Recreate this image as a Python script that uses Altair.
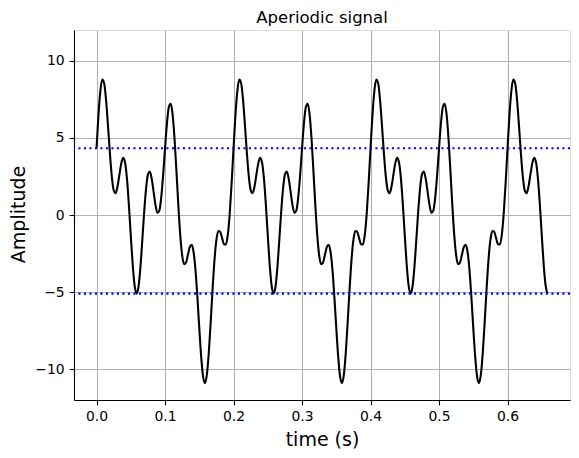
import altair as alt
import pandas as pd

# ---- data ----
sample_rate = 360  # samples per second (time step 1/360 s)
amplitude = [
    4.33, 6.46, 8.04, 8.78, 8.55, 7.47, 5.83, 4.05, 2.54, 1.62, 1.41, 1.83,
    2.60, 3.35, 3.71, 3.40, 2.34, 0.66, -1.33, -3.21, -4.57, -5.10, -4.70, -3.48,
    -1.73, 0.13, 1.68, 2.62, 2.82, 2.35, 1.50, 0.64, 0.14, 0.28, 1.14, 2.59,
    4.33, 5.94, 7.00, 7.22, 6.50, 4.93, 2.83, 0.61, -1.31, -2.62, -3.19, -3.09,
    -2.60, -2.09, -1.93, -2.40, -3.57, -5.32, -7.33, -9.19, -10.48, -10.90, -10.34, -8.92,
    -6.93, -4.79, -2.91, -1.62, -1.04, -1.09, -1.50, -1.90, -1.91, -1.28, 0.10, 2.07,
    4.33, 6.46, 8.04, 8.78, 8.55, 7.47, 5.83, 4.05, 2.54, 1.62, 1.41, 1.83,
    2.60, 3.35, 3.71, 3.40, 2.34, 0.66, -1.33, -3.21, -4.57, -5.10, -4.70, -3.48,
    -1.73, 0.13, 1.68, 2.62, 2.82, 2.35, 1.50, 0.64, 0.14, 0.28, 1.14, 2.59,
    4.33, 5.94, 7.00, 7.22, 6.50, 4.93, 2.83, 0.61, -1.31, -2.62, -3.19, -3.09,
    -2.60, -2.09, -1.93, -2.40, -3.57, -5.32, -7.33, -9.19, -10.48, -10.90, -10.34, -8.92,
    -6.93, -4.79, -2.91, -1.62, -1.04, -1.09, -1.50, -1.90, -1.91, -1.28, 0.10, 2.07,
    4.33, 6.46, 8.04, 8.78, 8.55, 7.47, 5.83, 4.05, 2.54, 1.62, 1.41, 1.83,
    2.60, 3.35, 3.71, 3.40, 2.34, 0.66, -1.33, -3.21, -4.57, -5.10, -4.70, -3.48,
    -1.73, 0.13, 1.68, 2.62, 2.82, 2.35, 1.50, 0.64, 0.14, 0.28, 1.14, 2.59,
    4.33, 5.94, 7.00, 7.22, 6.50, 4.93, 2.83, 0.61, -1.31, -2.62, -3.19, -3.09,
    -2.60, -2.09, -1.93, -2.40, -3.57, -5.32, -7.33, -9.19, -10.48, -10.90, -10.34, -8.92,
    -6.93, -4.79, -2.91, -1.62, -1.04, -1.09, -1.50, -1.90, -1.91, -1.28, 0.10, 2.07,
    4.33, 6.46, 8.04, 8.78, 8.55, 7.47, 5.83, 4.05, 2.54, 1.62, 1.41, 1.83,
    2.60, 3.35, 3.71, 3.40, 2.34, 0.66, -1.33, -3.21, -4.57, -5.10,
]
ref_levels = [4.33, -5.10]  # first and last sample levels (dotted lines)
x_ticks = [0.0, 0.1, 0.2, 0.3, 0.4, 0.5, 0.6]
y_ticks = [-10, -5, 0, 5, 10]
x_domain = [-0.0329, 0.6912]
y_domain = [-12, 12]
chart_title = "Aperiodic signal"

df = pd.DataFrame({
    "t": [i / sample_rate for i in range(len(amplitude))],
    "amp": amplitude,
})
ref_df = pd.DataFrame({"level": ref_levels})
title_df = pd.DataFrame({"label": [chart_title]})

FONT = "DejaVu Sans"
W, H = 496, 370

common_axis = dict(
    labelFont=FONT, labelFontSize=13.9, labelColor="black",
    tickColor="black", tickSize=4.9, tickWidth=1.1,
    domainColor="black", domainWidth=1.1,
    gridColor="#b0b0b0", gridWidth=1.1, grid=True,
    labelPadding=4.9,
    titleFont=FONT, titleFontSize=19, titleFontWeight="normal",
    titleColor="black", titleBaseline="alphabetic",
)

x_axis = alt.Axis(values=x_ticks, format=".1f", title="time (s)",
                  titleY=45, titleX=W / 2, labelFlush=False, **common_axis)
y_axis = alt.Axis(values=y_ticks, format="d", title="Amplitude",
                  titleX=-50, titleY=H / 2 - 1, titleAngle=270, **common_axis)

line = alt.Chart(df).mark_line(
    color="black", strokeWidth=2.08, interpolate="monotone"
).encode(
    x=alt.X("t:Q", scale=alt.Scale(domain=x_domain, nice=False, zero=False), axis=x_axis),
    y=alt.Y("amp:Q", scale=alt.Scale(domain=y_domain, nice=False, zero=False), axis=y_axis),
)

rules = alt.Chart(ref_df).mark_rule(
    color="#0000ff", strokeWidth=2.08, strokeDash=[2.1, 3.4], strokeCap="butt"
).encode(y="level:Q")

title = alt.Chart(title_df).mark_text(
    font=FONT, fontSize=16.5, color="black", align="center",
    baseline="alphabetic", clip=False,
).encode(text="label:N", x=alt.value(W / 2), y=alt.value(-7.5))

chart = alt.layer(line, rules, title).properties(
    width=W, height=H,
    autosize=alt.AutoSizeParams(type="none"),
    padding={"left": 66, "top": 22, "right": 1, "bottom": 50},
).configure_view(stroke="black", strokeWidth=1.1).configure(background="white")

chart.save("out.html", embed_options={"renderer": "svg", "actions": False})
